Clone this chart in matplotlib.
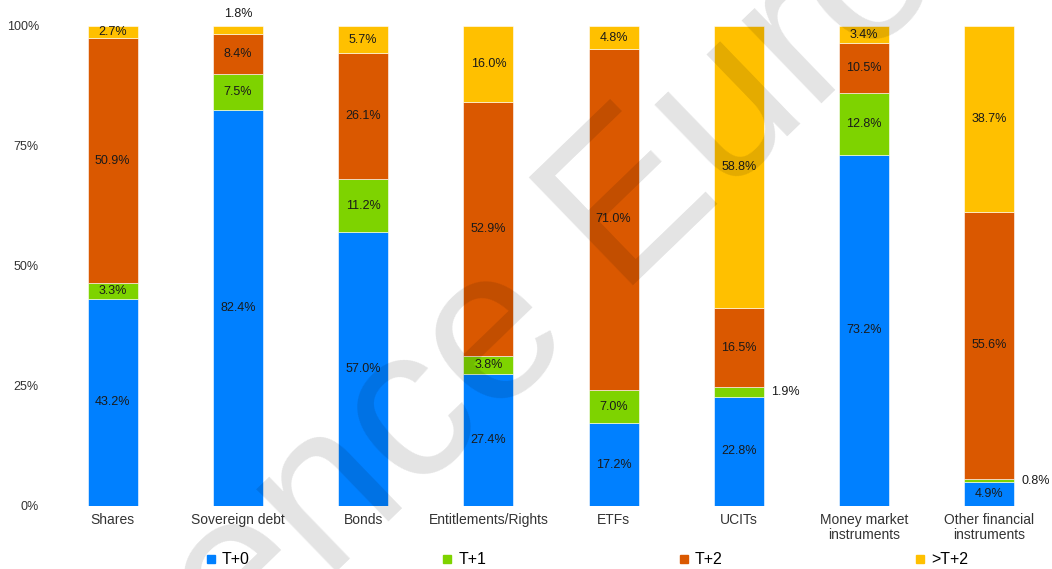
import numpy as np
import matplotlib.pyplot as plt
from matplotlib.lines import Line2D

plt.rcParams['font.family'] = ['Liberation Sans', 'DejaVu Sans']

# Data (share of settlement cycle per instrument type, %)
categories = ["Shares", "Sovereign debt", "Bonds", "Entitlements/Rights", "ETFs",
              "UCITs", "Money market\ninstruments", "Other financial\ninstruments"]
series_names = ["T+0", "T+1", "T+2", ">T+2"]
t0 = [43.2, 82.4, 57.0, 27.4, 17.2, 22.8, 73.2, 4.9]
t1 = [3.3, 7.5, 11.2, 3.8, 7.0, 1.9, 12.8, 0.8]
t2 = [50.9, 8.4, 26.1, 52.9, 71.0, 16.5, 10.5, 55.6]
t3 = [2.7, 1.8, 5.7, 16.0, 4.8, 58.8, 3.4, 38.7]
yticks = [0, 25, 50, 75, 100]

colors = ["#0080ff", "#7ed300", "#da5800", "#ffc000"]
text_col = "#1a1a1a"

fig = plt.figure(figsize=(10.52, 5.69), dpi=100)
ax = fig.add_axes([50 / 1052, 63 / 569, 1002 / 1052, 480 / 569])

x = np.arange(len(categories))
width = 0.4
bottom = np.zeros(len(categories))
for name, vals, col in zip(series_names, [t0, t1, t2, t3], colors):
    vals = np.array(vals)
    ax.bar(x, vals, width, bottom=bottom, color=col, edgecolor="white",
           linewidth=0.4, label=name, zorder=2)
    for i, v in enumerate(vals):
        lab = f"{v:.1f}%"
        mid = bottom[i] + v / 2
        if name == ">T+2" and v < 2.5:
            # tiny top segment: label above the bar
            ax.text(x[i], bottom[i] + v + 1.2, lab, ha="center", va="bottom",
                    fontsize=9, color=text_col, zorder=4)
        elif v < 2.5:
            # tiny segment: label to the right of the bar
            ax.text(x[i] + width / 2 + 0.06, mid, lab, ha="left", va="center",
                    fontsize=9, color=text_col, zorder=4)
        else:
            ax.text(x[i], mid, lab, ha="center", va="center",
                    fontsize=9, color=text_col, zorder=4)
    bottom += vals

ax.set_xlim(-0.5, len(categories) - 0.5)
ax.set_ylim(0, 100)
ax.set_yticks(yticks)
ax.set_yticklabels([f"{t}%" for t in yticks])
ax.set_xticks(x)
ax.set_xticklabels(categories, fontsize=10, color="#333333", linespacing=1.1)
ax.tick_params(axis="y", length=0, pad=8, labelsize=9, labelcolor="#333333")
ax.tick_params(axis="x", length=0, pad=5)
for s in ax.spines.values():
    s.set_visible(False)

# faint diagonal watermark
fig.text(0.228, -0.17, "ence Euro", fontsize=156, color="black", alpha=0.11,
         rotation=44, ha="left", va="baseline", rotation_mode="anchor", zorder=5)

handles = [Line2D([], [], marker="s", linestyle="none", markersize=6,
                  color=c) for c in colors]
fig.legend(handles, series_names, loc="center", bbox_to_anchor=(0.558, 0.016),
           ncol=4, frameon=False, fontsize=11.5, handlelength=0.6,
           handletextpad=0.4, columnspacing=12.05)

fig.savefig("out.png", dpi=100)
